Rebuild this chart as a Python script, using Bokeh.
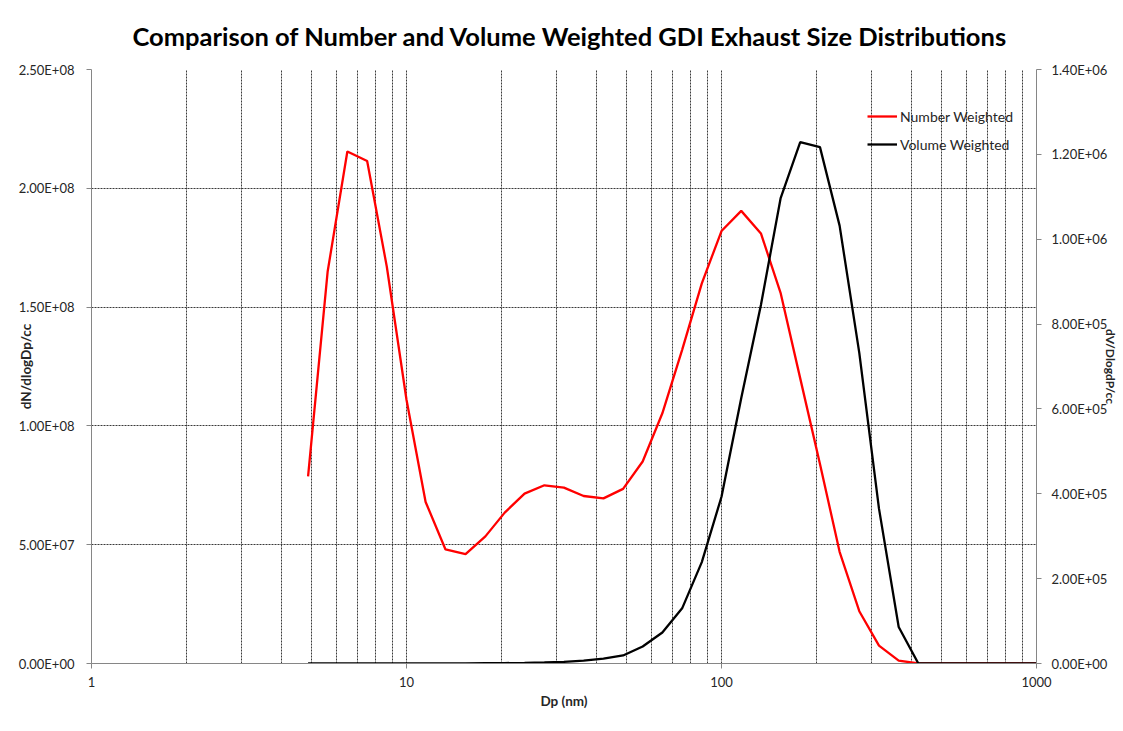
import math
from bokeh.plotting import figure
from bokeh.models import (Range1d, LinearAxis, FixedTicker, Legend, LegendItem)
from bokeh.embed import file_html
from bokeh.resources import INLINE

# ---------------- data ----------------
dp_nm = [4.87, 5.62, 6.49, 7.50, 8.66, 10.0, 11.5, 13.3, 15.4, 17.8,
         20.5, 23.7, 27.4, 31.6, 36.5, 42.2, 48.7, 56.2, 64.9, 75.0,
         86.6, 100.0, 115.5, 133.4, 154.0, 177.8, 205.4, 237.1, 273.8, 316.2,
         365.2, 421.7, 487.0, 562.3, 649.4, 749.9, 866.0, 1000.0]

number_weighted = [7.88e7, 1.65e8, 2.155e8, 2.115e8, 1.67e8, 1.11e8, 6.8e7, 4.8e7, 4.6e7, 5.35e7,
                   6.35e7, 7.15e7, 7.5e7, 7.4e7, 7.05e7, 6.95e7, 7.35e7, 8.5e7, 1.053e8, 1.32e8,
                   1.60e8, 1.82e8, 1.905e8, 1.81e8, 1.56e8, 1.20e8, 8.4e7, 4.7e7, 2.2e7, 7.5e6,
                   1.2e6, 0, 0, 0, 0, 0, 0, 0]

volume_weighted = [0, 0, 100, 150, 200, 250, 300, 350, 400, 700,
                   1000, 1500, 2500, 4000, 7000, 11500, 19000, 40000, 73000, 130000,
                   239000, 393000, 625000, 845000, 1096000, 1229000, 1217000, 1032000, 732000, 365000,
                   86000, 0, 0, 0, 0, 0, 0, 0]

x_ticks = [1, 10, 100, 1000]
x_tick_labels = ["1", "10", "100", "1000"]
x_minor_ticks = [2, 3, 4, 5, 6, 7, 8, 9, 20, 30, 40, 50, 60, 70, 80, 90,
                 200, 300, 400, 500, 600, 700, 800, 900]
left_ticks = [0, 50000000, 100000000, 150000000, 200000000, 250000000]
left_tick_labels = ["0.00E+00", "5.00E+07", "1.00E+08", "1.50E+08", "2.00E+08", "2.50E+08"]
right_ticks = [0, 200000, 400000, 600000, 800000, 1000000, 1200000, 1400000]
right_tick_labels = ["0.00E+00", "2.00E+05", "4.00E+05", "6.00E+05", "8.00E+05",
                     "1.00E+06", "1.20E+06", "1.40E+06"]

title_text = "Comparison of Number and Volume Weighted GDI Exhaust Size Distributions"
x_label = "Dp (nm)"
left_label = "dN/dlogDp/cc"
right_label = "dV/DlogdP/cc"
series_names = ["Number Weighted", "Volume Weighted"]

# ---------------- figure ----------------
FONT = "Lato"
AXIS_GRAY = "#868686"
GRID = "#3a3a3a"
TXT = "#262626"

p = figure(width=1122, height=724, x_axis_type="log",
           x_range=Range1d(1, 1000), y_range=Range1d(0, 2.5e8),
           output_backend="svg", toolbar_location=None,
           min_border_left=91, min_border_right=86,
           min_border_top=69, min_border_bottom=61)
p.extra_y_ranges = {"vol": Range1d(0, 1.4e6)}
p.outline_line_color = None
p.background_fill_color = "white"
p.border_fill_color = "white"

p.title.text = title_text
p.title.text_font = FONT
p.title.text_font_size = "25.5px"
p.title.text_font_style = "bold"
p.title.align = "left"
p.title.offset = 41
p.title.text_color = "black"
p.title.standoff = 37

# x axis
xa = p.xaxis[0]
xa.ticker = FixedTicker(ticks=x_ticks, minor_ticks=x_minor_ticks)
xa.major_label_overrides = {t: l for t, l in zip(x_ticks, x_tick_labels)}
xa.axis_label = x_label

# left axis
ya = p.yaxis[0]
ya.ticker = FixedTicker(ticks=left_ticks)
ya.major_label_overrides = {t: l for t, l in zip(left_ticks, left_tick_labels)}
ya.axis_label = left_label

# right axis
ra = LinearAxis(y_range_name="vol", ticker=FixedTicker(ticks=right_ticks),
                axis_label=right_label)
ra.major_label_overrides = {t: l for t, l in zip(right_ticks, right_tick_labels)}
p.add_layout(ra, "right")

for ax in (xa, ya, ra):
    ax.axis_line_color = AXIS_GRAY
    ax.major_tick_line_color = AXIS_GRAY
    ax.minor_tick_line_color = None
    ax.major_tick_in = 0
    ax.major_tick_out = 5
    ax.major_label_text_font = FONT
    ax.major_label_text_font_size = "13px"
    ax.major_label_text_color = TXT
    ax.axis_label_text_font = FONT
    ax.axis_label_text_font_size = "13.5px"
    ax.axis_label_text_font_style = "bold"
    ax.axis_label_text_color = TXT

ra.axis_label_text_font_size = "12px"

xa.major_label_standoff = 8
xa.axis_label_standoff = 3
ya.major_label_standoff = 12
ya.axis_label_standoff = -18
ra.major_label_standoff = 10
ra.axis_label_standoff = -7

# grids
p.xgrid.grid_line_color = GRID
p.xgrid.grid_line_dash = "2 1"
p.xgrid.grid_line_width = 1
p.xgrid.minor_grid_line_color = GRID
p.xgrid.minor_grid_line_dash = "2 1"
p.xgrid.minor_grid_line_width = 1
p.ygrid.grid_line_color = GRID
p.ygrid.grid_line_dash = "2 1"
p.ygrid.grid_line_width = 1

# lines
r_num = p.line(dp_nm, number_weighted, line_color="#ff0000", line_width=2.3)
r_vol = p.line(dp_nm, volume_weighted, line_color="black", line_width=2.3,
               y_range_name="vol")

legend = Legend(items=[LegendItem(label=series_names[0], renderers=[r_num]),
                       LegendItem(label=series_names[1], renderers=[r_vol])],
                location=(776, 509), border_line_color=None,
                background_fill_alpha=0, padding=0, margin=0, spacing=8,
                label_height=20, glyph_height=20, glyph_width=30,
                label_standoff=3, label_text_font=FONT,
                label_text_font_size="14px", label_text_color=TXT)
p.add_layout(legend)

open("out.html", "w").write(file_html(p, INLINE))
